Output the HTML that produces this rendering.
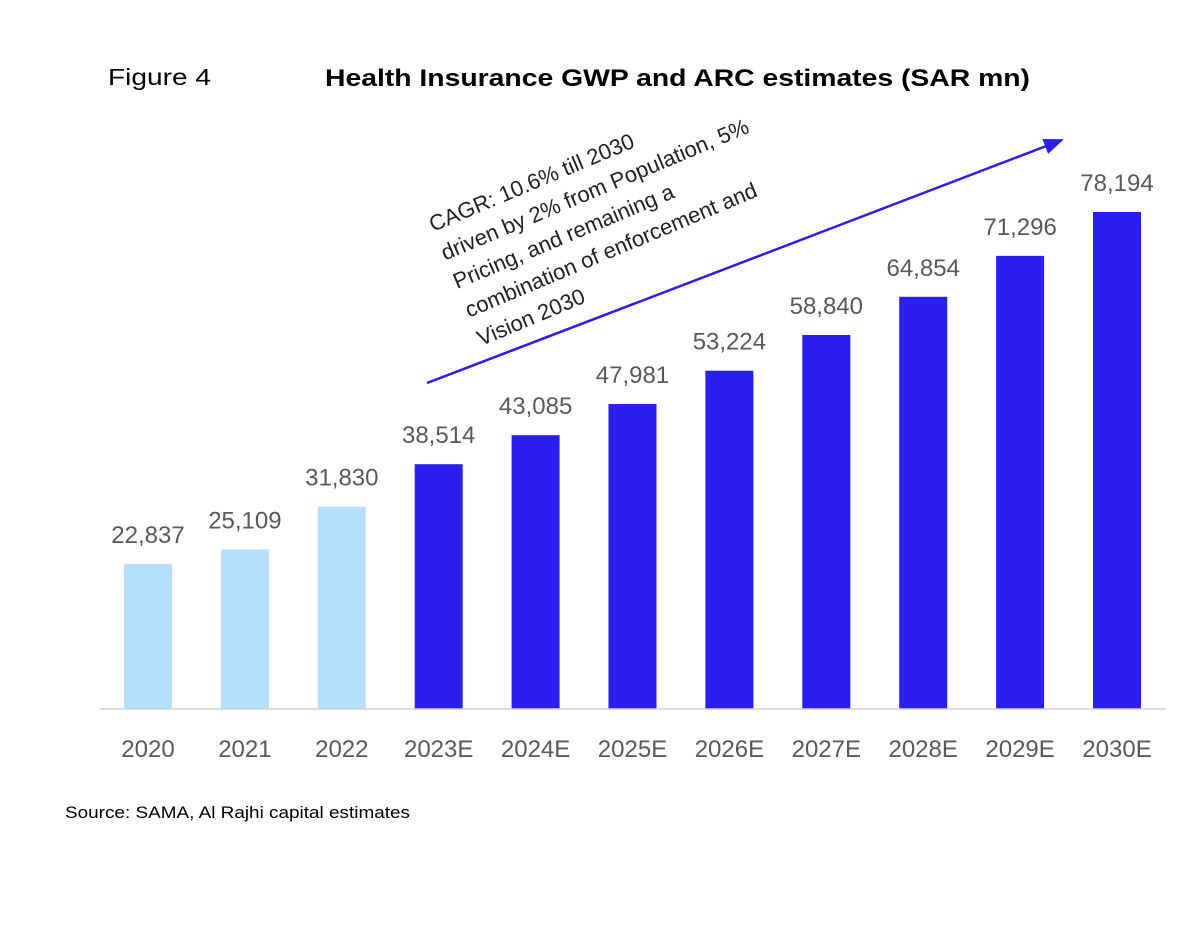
<!DOCTYPE html>
<html><head><meta charset="utf-8"><style>
body{margin:0;background:#fff;}
svg{display:block;}
</style></head><body>
<svg width="1200" height="934" xmlns="http://www.w3.org/2000/svg">
<text x="108" y="85" font-family="Liberation Sans, sans-serif" font-size="23" fill="#000" textLength="103" lengthAdjust="spacingAndGlyphs">Figure 4</text>
<text x="325" y="86" font-family="Liberation Sans, sans-serif" font-size="24" font-weight="bold" fill="#000" textLength="705" lengthAdjust="spacingAndGlyphs">Health Insurance GWP and ARC estimates (SAR mn)</text>
<g id="bars"></g>
<line x1="100" y1="709" x2="1166" y2="709" stroke="#d0d0d0" stroke-width="1.5"/>
<defs><marker id="ah" markerWidth="20" markerHeight="16" refX="18" refY="8" orient="auto" markerUnits="userSpaceOnUse" viewBox="0 0 20 16"><path d="M0,0 L20,8 L0,16 z" fill="#2a1ff0"/></marker></defs>
<line x1="427" y1="383" x2="1062" y2="140" stroke="#2a1ff0" stroke-width="2.5" marker-end="url(#ah)"/>
<g transform="rotate(-22.8 433 232)" font-family="Liberation Sans, sans-serif" font-size="22" fill="#222">
<text x="433" y="232">CAGR: 10.6% till 2030</text>
<text x="433" y="263">driven by 2% from Population, 5%</text>
<text x="433" y="294">Pricing, and remaining a</text>
<text x="433" y="325">combination of enforcement and</text>
<text x="433" y="356">Vision 2030</text>
</g>
<text x="65" y="818" font-family="Liberation Sans, sans-serif" font-size="17" fill="#000" textLength="345" lengthAdjust="spacingAndGlyphs">Source: SAMA, Al Rajhi capital estimates</text>
</svg>
<script>
const categories=["2020","2021","2022","2023E","2024E","2025E","2026E","2027E","2028E","2029E","2030E"];
const values=[22837,25109,31830,38514,43085,47981,53224,58840,64854,71296,78194];
const isEstimate=[false,false,false,true,true,true,true,true,true,true,true];
const NS="http://www.w3.org/2000/svg";
const g=document.getElementById('bars');
const x0=148,step=96.9,bw=48,base=709,scale=497/78194;
const xs=i=>x0+i*step, ys=v=>base-v*scale;
categories.forEach((c,i)=>{
 const v=values[i];
 const r=document.createElementNS(NS,'rect');
 r.setAttribute('x',xs(i)-bw/2);r.setAttribute('y',ys(v));
 r.setAttribute('width',bw);r.setAttribute('height',base-ys(v));
 r.setAttribute('fill',isEstimate[i]?'#2a1ff0':'#b5dff8');
 
 
 g.appendChild(r);
 const t=document.createElementNS(NS,'text');
 t.setAttribute('x',xs(i));t.setAttribute('y',ys(v)-21);
 t.setAttribute('text-anchor','middle');t.setAttribute('font-family','Liberation Sans, sans-serif');
 t.setAttribute('font-size','24');t.setAttribute('fill','#595959');
 t.textContent=v.toLocaleString('en-US');
 
 
 g.appendChild(t);
 const l=document.createElementNS(NS,'text');
 l.setAttribute('x',xs(i));l.setAttribute('y',757);
 l.setAttribute('text-anchor','middle');l.setAttribute('font-family','Liberation Sans, sans-serif');
 l.setAttribute('font-size','24');l.setAttribute('fill','#595959');
 l.textContent=c;
 
 
 g.appendChild(l);
});
</script>
</body></html>
